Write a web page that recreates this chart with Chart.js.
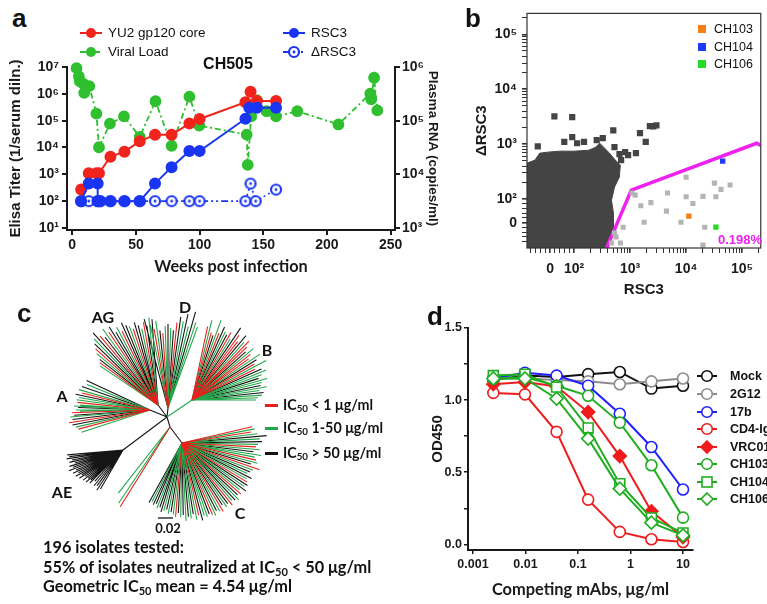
<!DOCTYPE html>
<html><head><meta charset="utf-8">
<script src="https://cdn.jsdelivr.net/npm/chart.js@4/dist/chart.umd.min.js"></script>
<style>
html,body{margin:0;padding:0;background:#fff;}
#page{position:relative;width:767px;height:604px;overflow:hidden;background:#fff;font-family:"Liberation Sans",Arial,sans-serif;color:#111;}
canvas{position:absolute;}
.t{position:absolute;white-space:nowrap;line-height:1;transform:translateY(-50%);color:#111;}
.b{font-weight:bold;}
.cal{font-family:Lato,"Open Sans",sans-serif;font-weight:bold;}
sub{font-size:0.68em;vertical-align:-0.25em;line-height:0;}
svg{position:absolute;overflow:visible;}
</style></head><body><div id="page">
<canvas id="ca" width="447" height="225" style="left:0;top:55px"></canvas>
<canvas id="cb" width="327" height="300" style="left:440px;top:0"></canvas>
<canvas id="cc" width="290" height="235" style="left:20px;top:295px"></canvas>
<canvas id="cd" width="367" height="304" style="left:400px;top:300px"></canvas>

<div class="t b" style="left:12px;top:17.5px;font-size:26px">a</div>
<div class="t b" style="left:465px;top:17.5px;font-size:26px">b</div>
<div class="t b" style="left:17px;top:312.5px;font-size:26px">c</div>
<div class="t b" style="left:427px;top:315.5px;font-size:26px">d</div>

<div class="t b" style="left:228px;top:64px;font-size:16px;transform:translate(-50%,-50%)">CH505</div>
<div id="legA"></div>
<div id="legB"></div>
<div id="legC"></div>
<div id="legD"></div>

<div class="t b" style="left:718px;top:239px;font-size:13px;color:#ee22ee">0.198%</div>

<div class="t cal" style="left:103px;top:317px;font-size:16px;transform:translate(-50%,-50%)">AG</div>
<div class="t cal" style="left:185px;top:307px;font-size:16px;transform:translate(-50%,-50%)">D</div>
<div class="t cal" style="left:267px;top:350px;font-size:16px;transform:translate(-50%,-50%)">B</div>
<div class="t cal" style="left:62px;top:396px;font-size:16px;transform:translate(-50%,-50%)">A</div>
<div class="t cal" style="left:62px;top:492px;font-size:16px;transform:translate(-50%,-50%)">AE</div>
<div class="t cal" style="left:240px;top:513px;font-size:16px;transform:translate(-50%,-50%)">C</div>
<div class="t cal" style="left:168px;top:528px;font-size:13px;transform:translate(-50%,-50%)">0.02</div>

<div class="t cal" style="left:43px;top:547px;font-size:16.3px">196 isolates tested:</div>
<div class="t cal" style="left:43px;top:567px;font-size:16.3px">55% of isolates neutralized at IC<sub>50</sub> &lt; 50 μg/ml</div>
<div class="t cal" style="left:43px;top:586px;font-size:16.3px">Geometric IC<sub>50</sub> mean = 4.54 μg/ml</div>
</div>
<script>
// ================= DATA =================
// Panel a
const weeksYU2 = [7, 13, 19, 21, 30, 41, 53, 65, 78, 92, 100, 136, 140, 145, 160];
const titerYU2 = [270, 1100, 1100, 1100, 4500, 7000, 17000, 30000, 30000, 78000, 115000, 490000, 1200000, 540000, 540000];
const weeksRSC3 = [7, 13, 20, 20, 22, 30, 41, 53, 65, 78, 92, 100, 136, 139, 145, 160];
const titerRSC3 = [100, 450, 450, 100, 100, 100, 100, 100, 450, 1850, 7400, 7400, 118000, 300000, 300000, 300000];
const weeksDRSC3 = [7, 13, 20, 22, 30, 41, 53, 65, 78, 92, 100, 136, 140, 144, 160];
const titerDRSC3 = [100, 100, 100, 100, 100, 100, 100, 100, 100, 100, 100, 100, 450, 100, 270];
const weeksVL = [3.4, 5.2, 6, 8.6, 9.4, 13.4, 19, 21, 29.6, 40.6, 53, 65.4, 78, 92, 99.7, 137, 137.8, 140.5, 145, 152.6, 160, 176.7, 209, 234, 234.7, 237, 239.5];
const copiesVL = [950000, 670000, 540000, 490000, 330000, 440000, 135000, 32000, 88000, 120000, 50000, 230000, 34000, 280000, 81000, 55000, 15000, 120000, 240000, 150000, 120000, 150000, 85000, 320000, 250000, 630000, 156000];
const weekTicks = [0, 50, 100, 150, 200, 250];
const titerTicks = [1e1, 1e2, 1e3, 1e4, 1e5, 1e6, 1e7];
const rnaTicks = [1e3, 1e4, 1e5, 1e6];

// Panel b (fluorescence values, logicle-like display)
const blobRSC3 = [-96, -96, -63, -43, -10, 39, 100, 183, 243, 286, 336, 411, 546, 668, 641, 525, 464, 503, 503, 411, -96];
const blobDRSC3 = [-107, 452, 512, 686, 716, 746, 746, 777, 882, 1043, 882, 716, 512, 415, 251, 165, 95, 41, -23, -107, -107];
const darkRSC3 = [-51, 18, 92, 59, 92, 113, 150, 253, 325, 500, 525, 815, 920, 1270, 645, 690, 1500, 1900, 2250, 2600, 2950];
const darkDRSC3 = [910, 3200, 3100, 1100, 1350, 1040, 1100, 1180, 1290, 1790, 880, 716, 630, 686, 660, 510, 1590, 1100, 2130, 2100, 2200];
const grayRSC3 = [750, 670, 560, 465, 525, 1230, 1080, 1550, 1780, 2350, 4650, 4450, 8100, 10000, 10000, 13200, 20000, 21500, 20000, 34000, 32000, 42000, 61000];
const grayDRSC3 = [-19, -86, -60, -86, -44, 118, 129, 72, 2, 85, 129, 49, 2, 250, 110, 81, 112, -19, -95, 110, 195, 150, 180];
const gateRSC3 = [380, 1050, 182000, 215000];
const gateDRSC3 = [-107, 146, 1040, 950];
const mAbNames = ['CH103', 'CH104', 'CH106'];
const mAbRSC3 = [11200, 45000, 34000];
const mAbDRSC3 = [28, 490, -19];
const logicleTickValues = [0, 100, 1000, 10000, 100000];
const logicleTickLabels = ['0', '10²', '10³', '10⁴', '10⁵'];

// Panel c (tree: clade hub positions and leaves as angle (deg) / branch length, units of 0.02/15)
const hubB = [25, 17], hubD = [1, 9], hubAG = [-9, 12], hubA = [-17, 7], hubAE = [-44, -33], nodeC0 = [3, -10], hubC = [15, -26];
const angB = [78,76,74,72,70,68,66,64,62,60,58,56,54,52,50,48,46,44,42,40,38,36,34,32,30,28,26,24,22,20,18,16,14,12,10,8,6,4,2,0];
const lenB = [75,82,70,68,85,72,80,76,74,78,72,87,80,74,84,78,82,76,72,80,74,70,82,76,72,84,70,76,80,74,70,78,72,70,76,68,72,70,66,64];
const colB = "rgrkgrkgkrgkrrkgrrkgrrgkrgrkggkggkggkggg";
const angD = [105,102,100,98,96,94,92,90,88,86,84,82,80,78,76,74,72,70];
const lenD = [92,85,80,88,78,75,82,84,80,78,86,92,88,96,84,100,90,86];
const colD = "kgrgkrgkgkrkgkgkgg";
const angAG = [146,144,142,140,138,136,134,132,130,128,126,124,122,120,118,116,114,112,110,108,106,104,102,100,98,96,94];
const lenAG = [70,72,74,80,84,88,92,97,90,86,94,88,92,84,88,82,90,86,84,80,86,82,78,84,80,88,86];
const colAG = "grkgrkgkrkgrkkgrkkgrkkgrkgk";
const angA = [155,158,161,164,166,168,170,172,174,176,177,178,180,181,182,184,185,187,189,191,193,195,198];
const lenA = [70,68,72,74,70,76,72,74,73,70,76,72,74,70,78,76,80,78,82,79,76,74,72];
const colA = "kgkgrkggrggkggrkgkrkgrg";
const angAE = [185,187,189,191,193,195,197,199,201,203,205,207,209,211,213,215,217,219,221,223,225,228,231,234,237,240];
const lenAE = [56,54,57,52,55,50,56,53,58,51,55,50,54,48,52,46,50,45,49,44,47,42,46,44,48,45];
const colAE = "kkkkkkkkkkkkkkkkkkkkkkkkkk";
const angC = [13,11,9,7,5,3,1,-1,-3,-5,-7,-9,-11,-13,-15,-17,-19,-21,-23,-25,-27,-29,-31,-33,-35,-37,-39,-41,-43,-45,-47,-49,-51,-53,-55,-57,-59,-61,-63,-65,-67,-69,-71,-73,-75,-77,-79,-81,-83,-85,-87,-89,-91,-93,-95,-97,-99,-101,-103,-105,-107,-109,-111,-113,-115,-117,-119];
const lenC = [72,74,70,76,85,78,80,76,74,78,72,80,74,76,78,72,82,76,74,72,78,74,76,78,76,80,74,78,76,80,78,76,80,76,78,74,80,78,76,80,78,76,78,76,80,74,78,72,76,74,78,72,74,70,74,72,70,72,68,70,72,68,70,66,68,66,68];
const colC = "rgrgkgkgrgkggrgkrgkgkgrkgkgrkgkgrkgkrgkgrkggkrgkgkgkgkrgkgkgkkgkkgk";
const angC2 = [232, 236, 238];
const lenC2 = [84, 92, 94];
const colC2 = "ggr";
const scaleBarLen = 15; // = 0.02

// Panel d
const conc = [0.00244, 0.00977, 0.0391, 0.156, 0.625, 2.5, 10];
const odMock = [1.14, 1.17, 1.16, 1.18, 1.195, 1.08, 1.10];
const od2G12 = [1.15, 1.15, 1.14, 1.13, 1.11, 1.13, 1.15];
const od17b = [1.15, 1.19, 1.17, 1.10, 0.905, 0.675, 0.38];
const odCD4Ig = [1.05, 1.04, 0.78, 0.31, 0.086, 0.035, 0.016];
const odVRC01 = [1.11, 1.125, 1.095, 0.917, 0.612, 0.229, 0.05];
const odCH103 = [1.15, 1.16, 1.10, 1.03, 0.844, 0.548, 0.185];
const odCH104 = [1.17, 1.18, 1.09, 0.807, 0.42, 0.183, 0.079];
const odCH106 = [1.15, 1.15, 1.01, 0.733, 0.386, 0.15, 0.062];
const concTicks = [0.001, 0.01, 0.1, 1, 10];
const odTicks = [0, 0.25, 0.5, 0.75, 1.0, 1.25, 1.5];

// ================= HELPERS =================
const ARIAL = '"Liberation Sans", Arial, sans-serif';
const AX = '#1a1a1a';
const SUP = {'0':'⁰','1':'¹','2':'²','3':'³','4':'⁴','5':'⁵','6':'⁶','7':'⁷','8':'⁸','9':'⁹'};
const decLabel = v => '10' + String(Math.round(Math.log10(v))).split('').map(c => SUP[c]).join('');
const pts = (xs, ys) => xs.map((x, i) => ({x, y: ys[i]}));
function ringDot(color){
  const c = document.createElement('canvas'); c.width = c.height = 16;
  const g = c.getContext('2d');
  g.beginPath(); g.arc(8, 8, 5, 0, 2*Math.PI); g.fillStyle = '#fff'; g.fill();
  g.lineWidth = 2.2; g.strokeStyle = color; g.stroke();
  g.beginPath(); g.arc(8, 8, 1.4, 0, 2*Math.PI); g.fillStyle = color; g.fill();
  return c;
}
const noInt = {legend:{display:false}, tooltip:{enabled:false}};
Chart.defaults.font.family = ARIAL;

// ================= PANEL a =================
const RED = '#f0241d', GREEN = '#2fbf2f', BLUE = '#1a35f2';
const gridA = {display:true, drawOnChartArea:false, drawTicks:true, tickLength:5, lineWidth:2, color:AX};
const borderA = {display:true, width:2, color:AX};
const fontA = {family:ARIAL, weight:'bold', size:14};
new Chart(document.getElementById('ca'), {
  type:'line',
  data:{datasets:[
    {label:'YU2 gp120 core', data:pts(weeksYU2, titerYU2), borderColor:RED, backgroundColor:RED, borderWidth:2, pointRadius:5, yAxisID:'y', clip:false, order:2},
    {label:'Viral Load', data:pts(weeksVL, copiesVL), borderColor:GREEN, backgroundColor:GREEN, borderWidth:1.8, borderDash:[6,3,2,3], pointRadius:5, yAxisID:'y2', clip:false, order:4},
    {label:'RSC3', data:pts(weeksRSC3, titerRSC3), borderColor:BLUE, backgroundColor:BLUE, borderWidth:2, pointRadius:5, yAxisID:'y', clip:false, order:1},
    {label:'ΔRSC3', data:pts(weeksDRSC3, titerDRSC3), borderColor:BLUE, backgroundColor:'#fff', borderWidth:1.6, borderDash:[7,3,2,3,2,3], pointStyle:ringDot(BLUE), yAxisID:'y', clip:false, order:3}
  ]},
  options:{
    responsive:false, animation:false, devicePixelRatio:1,
    layout:{padding:{top:12, left:0, right:0, bottom:0}},
    plugins:noInt, elements:{line:{tension:0}},
    scales:{
      x:{type:'linear', min:-4.1, max:253.4,
        afterBuildTicks:s => { s.ticks = weekTicks.map(v => ({value:v})); },
        afterFit:s => { s.height = 50; },
        ticks:{font:fontA, color:AX, padding:2, maxRotation:0, autoSkip:false},
        grid:gridA, border:borderA,
        title:{display:true, text:'Weeks post infection', color:AX, font:{family:'Lato', weight:'bold', size:16.3}, padding:{top:0, bottom:3}}},
      y:{type:'logarithmic', position:'left', min:8.4, max:1e7,
        afterBuildTicks:s => { s.ticks = titerTicks.map(v => ({value:v})); },
        afterFit:s => { s.width = 67; },
        ticks:{font:fontA, color:AX, padding:3, autoSkip:false, callback:v => decLabel(v)},
        grid:gridA, border:borderA,
        title:{display:true, text:'Elisa Titer (1/serum diln.)', color:AX, font:{family:ARIAL, weight:'bold', size:15}, padding:{top:7, bottom:0}}},
      y2:{type:'logarithmic', position:'right', min:918, max:1e6,
        afterBuildTicks:s => { s.ticks = rnaTicks.map(v => ({value:v})); },
        afterFit:s => { s.width = 52; },
        ticks:{font:fontA, color:AX, padding:2, autoSkip:false, callback:v => decLabel(v)},
        grid:gridA, border:borderA,
        title:{display:true, text:'Plasma RNA (copies/ml)', color:AX, font:{family:ARIAL, weight:'bold', size:13.5}, padding:{top:6, bottom:0}}}
    }
  }
});

// legend a
(function(){
  const L = document.getElementById('legA');
  const items = [
    {x:80, y:33, c:RED, dash:'', open:false, text:'YU2 gp120 core'},
    {x:80, y:52, c:GREEN, dash:'6 3 2 3', open:false, text:'Viral Load'},
    {x:283, y:33, c:BLUE, dash:'', open:false, text:'RSC3'},
    {x:283, y:52, c:BLUE, dash:'5 2 2 2', open:true, text:'ΔRSC3'}
  ];
  let h = '';
  items.forEach(it => {
    h += `<svg style="left:${it.x}px;top:${it.y-7}px" width="22" height="14"><line x1="0" y1="7" x2="22" y2="7" stroke="${it.c}" stroke-width="2" ${it.dash?`stroke-dasharray="${it.dash}"`:''}/>` +
      (it.open ? `<circle cx="11" cy="7" r="5" fill="#fff" stroke="${it.c}" stroke-width="2.2"/><circle cx="11" cy="7" r="1.4" fill="${it.c}"/>` : `<circle cx="11" cy="7" r="5" fill="${it.c}"/>`) + `</svg>`;
    h += `<div class="t" style="left:${it.x+28}px;top:${it.y}px;font-size:13.5px">${it.text}</div>`;
  });
  L.innerHTML = h;
})();

// ================= PANEL b =================
const T = v => v >= 100 ? Math.log10(v) : 1.57 + 0.0043 * v;
const tpts = (xs, ys) => xs.map((x, i) => ({x:T(x), y:T(ys[i])}));
function logicleTicks(maxV){
  const out = logicleTickValues.map(v => ({value:T(v), major:true}));
  for (let v = -80; v <= 80; v += 20) if (v !== 0) out.push({value:T(v), major:false});
  for (let d = 100; d < maxV; d *= 10) for (let m = 2; m <= 9; m++) if (d*m <= maxV) out.push({value:T(d*m), major:false});
  return out.sort((a, b) => a.value - b.value);
}
const logicleLabel = v => { const i = logicleTickValues.findIndex(t => Math.abs(T(t) - v) < 1e-6); return i >= 0 ? logicleTickLabels[i] : ''; };
const gridB = {display:true, drawOnChartArea:false, drawTicks:true, tickLength:5, color:'#333', lineWidth:c => (c.tick && c.tick.major) ? 1.6 : 1};
const fontB = {family:ARIAL, weight:'bold', size:14};
const frame = {id:'frame', afterDatasetsDraw(ch){ const a = ch.chartArea, g = ch.ctx; g.save(); g.strokeStyle = '#333'; g.lineWidth = 1.2; g.strokeRect(a.left, a.top, a.right - a.left, a.bottom - a.top); g.restore(); }};
const MAG = '#ee22ee';
new Chart(document.getElementById('cb'), {
  type:'scatter',
  data:{datasets:[
    {label:'events', data:tpts(blobRSC3, blobDRSC3), showLine:true, fill:'shape', borderColor:'#444', backgroundColor:'#444', borderWidth:1, pointRadius:0, order:6},
    {label:'events2', data:tpts(darkRSC3, darkDRSC3), pointStyle:'rect', pointRadius:4.4, backgroundColor:'#444', borderWidth:0, order:5},
    {label:'gate', data:tpts(gateRSC3, gateDRSC3), showLine:true, borderColor:MAG, borderWidth:3.5, pointRadius:0, order:4},
    {label:'gated', data:tpts(grayRSC3, grayDRSC3), pointStyle:'rect', pointRadius:3.6, backgroundColor:'#b4b4b4', borderWidth:0, order:3},
    {label:mAbNames[0], data:[{x:T(mAbRSC3[0]), y:T(mAbDRSC3[0])}], pointStyle:'rect', pointRadius:3.8, backgroundColor:'#f57f17', borderWidth:0, order:1},
    {label:mAbNames[1], data:[{x:T(mAbRSC3[1]), y:T(mAbDRSC3[1])}], pointStyle:'rect', pointRadius:3.8, backgroundColor:'#1f3cf5', borderWidth:0, order:1},
    {label:mAbNames[2], data:[{x:T(mAbRSC3[2]), y:T(mAbDRSC3[2])}], pointStyle:'rect', pointRadius:3.8, backgroundColor:'#22dd22', borderWidth:0, order:1}
  ]},
  options:{
    responsive:false, animation:false, devicePixelRatio:1,
    layout:{padding:{top:13, right:2, left:0, bottom:0}},
    plugins:noInt,
    scales:{
      x:{type:'linear', min:1.158, max:5.333,
        afterBuildTicks:s => { s.ticks = logicleTicks(215000); },
        afterFit:s => { s.height = 52; },
        ticks:{font:fontB, color:AX, padding:8, maxRotation:0, autoSkip:false, callback:logicleLabel},
        grid:gridB, border:{display:false},
        title:{display:true, text:'RSC3', color:AX, font:{family:ARIAL, weight:'bold', size:15}, padding:{top:0, bottom:1}}},
      y:{type:'linear', min:1.109, max:5.382,
        afterBuildTicks:s => { s.ticks = logicleTicks(240000); },
        afterFit:s => { s.width = 87; },
        ticks:{font:fontB, color:AX, padding:5, autoSkip:false, callback:logicleLabel},
        grid:gridB, border:{display:false},
        title:{display:true, text:'ΔRSC3', color:AX, font:{family:ARIAL, weight:'bold', size:15}, padding:{top:33, bottom:0}}}
    }
  },
  plugins:[frame]
});
(function(){
  const cols = ['#f57f17', '#1f3cf5', '#22dd22'];
  const ys = [29, 47, 64];
  let h = '';
  mAbNames.forEach((n, i) => {
    h += `<div style="position:absolute;left:698px;top:${ys[i]-4}px;width:8px;height:8px;background:${cols[i]}"></div>`;
    h += `<div class="t" style="left:714px;top:${ys[i]}px;font-size:12.5px">${n}</div>`;
  });
  document.getElementById('legB').innerHTML = h;
})();

// ================= PANEL c =================
const TREE_COL = {r:'#e8201c', g:'#22a84a', k:'#151515'};
const seg = {r:[], g:[], k:[]};
function addSeg(c, a, b){ seg[c].push({x:a[0], y:a[1]}, {x:b[0], y:b[1]}, {x:b[0], y:null}); }
function addClade(hub, ang, len, col){
  ang.forEach((a, i) => {
    const r = a * Math.PI / 180;
    addSeg(col[i] || 'k', hub, [hub[0] + len[i]*Math.cos(r), hub[1] + len[i]*Math.sin(r)]);
  });
}
const root = [0, 0];
addSeg('k', root, hubD); addSeg('k', root, hubAG); addSeg('k', root, hubA); addSeg('k', root, hubAE);
addSeg('k', root, nodeC0); addSeg('k', nodeC0, hubC); addSeg('g', root, hubB);
addClade(hubAE, angAE, lenAE, colAE);
addClade(hubA, angA, lenA, colA);
addClade(hubAG, angAG, lenAG, colAG);
addClade(hubD, angD, lenD, colD);
addClade(hubB, angB, lenB, colB);
addClade(hubC, angC, lenC, colC);
addClade(nodeC0, angC2, lenC2, colC2);
const scaleBar = [{x:-9, y:-101}, {x:-9 + scaleBarLen, y:-101}];
new Chart(document.getElementById('cc'), {
  type:'scatter',
  data:{datasets:[
    {label:'IC50 > 50', data:seg.k, showLine:true, borderColor:TREE_COL.k, borderWidth:1.1, pointRadius:0, spanGaps:false, order:3},
    {label:'IC50 1-50', data:seg.g, showLine:true, borderColor:TREE_COL.g, borderWidth:1.1, pointRadius:0, spanGaps:false, order:2},
    {label:'IC50 < 1', data:seg.r, showLine:true, borderColor:TREE_COL.r, borderWidth:1.1, pointRadius:0, spanGaps:false, order:1},
    {label:'scale', data:scaleBar, showLine:true, borderColor:'#111', borderWidth:1.3, pointRadius:0}
  ]},
  options:{
    responsive:false, animation:false, devicePixelRatio:1,
    layout:{padding:0}, plugins:noInt,
    scales:{x:{type:'linear', display:false, min:-147, max:143}, y:{type:'linear', display:false, min:-113, max:122}}
  }
});
(function(){
  const items = [{y:405, c:TREE_COL.r, t:'IC<sub>50</sub> &lt; 1 μg/ml'}, {y:428, c:TREE_COL.g, t:'IC<sub>50</sub> 1-50 μg/ml'}, {y:453, c:TREE_COL.k, t:'IC<sub>50</sub> &gt; 50 μg/ml'}];
  let h = '';
  items.forEach(it => {
    h += `<div style="position:absolute;left:265px;top:${it.y-1.5}px;width:13px;height:3px;background:${it.c}"></div>`;
    h += `<div class="t cal" style="left:283px;top:${it.y}px;font-size:14.3px">${it.t}</div>`;
  });
  document.getElementById('legC').innerHTML = h;
})();

// ================= PANEL d =================
const D_RED = '#ee1c1c', D_GREEN = '#1fae1f', D_BLUE = '#2020ff', D_GRAY = '#8c8c8c', D_BLACK = '#111';
const seriesD = [
  {name:'Mock', y:odMock, c:D_BLACK, s:'circle', fill:false},
  {name:'2G12', y:od2G12, c:D_GRAY, s:'circle', fill:false},
  {name:'17b', y:od17b, c:D_BLUE, s:'circle', fill:false},
  {name:'CD4-Ig', y:odCD4Ig, c:D_RED, s:'circle', fill:false},
  {name:'VRC01', y:odVRC01, c:D_RED, s:'rectRot', fill:true},
  {name:'CH103', y:odCH103, c:D_GREEN, s:'circle', fill:false},
  {name:'CH104', y:odCH104, c:D_GREEN, s:'rect', fill:false},
  {name:'CH106', y:odCH106, c:D_GREEN, s:'rectRot', fill:false}
];
const fontD = {family:ARIAL, weight:'bold', size:12.5};
const gridD = {display:true, drawOnChartArea:false, drawTicks:true, tickLength:4, lineWidth:1.5, color:AX};
new Chart(document.getElementById('cd'), {
  type:'line',
  data:{datasets:seriesD.map((s, i) => ({
    label:s.name, data:pts(conc, s.y), borderColor:s.c, backgroundColor:s.fill ? s.c : '#fff',
    borderWidth:2, pointStyle:s.s, pointRadius:s.s === 'circle' ? 5.5 : (s.s === 'rect' ? 7 : 6.5), pointBorderWidth:1.6,
    clip:false, order:8 - i
  }))},
  options:{
    responsive:false, animation:false, devicePixelRatio:1,
    layout:{padding:{top:28, right:74, left:0, bottom:0}},
    plugins:noInt, elements:{line:{tension:0}},
    scales:{
      x:{type:'logarithmic', min:0.000803, max:15.5,
        afterBuildTicks:s => { s.ticks = concTicks.map(v => ({value:v})); },
        afterFit:s => { s.height = 54; },
        ticks:{font:fontD, color:AX, padding:3, maxRotation:0, autoSkip:false, callback:v => String(v)},
        grid:gridD, border:{display:true, width:2, color:AX},
        title:{display:true, text:'Competing mAbs, μg/ml', color:AX, font:{family:'Lato', weight:'bold', size:16.4}, padding:{top:0, bottom:4}}},
      y:{type:'linear', min:-0.0395, max:1.5,
        afterBuildTicks:s => { s.ticks = odTicks.map(v => ({value:v})); },
        afterFit:s => { s.width = 68; },
        ticks:{font:fontD, color:AX, padding:2, autoSkip:false, callback:v => (Math.abs(v*2 - Math.round(v*2)) < 1e-6 ? v.toFixed(1) : '')},
        grid:gridD, border:{display:true, width:2, color:AX},
        title:{display:true, text:'OD450', color:AX, font:{family:ARIAL, weight:'bold', size:15}, padding:{top:29, bottom:0}}}
    }
  }
});
(function(){
  const ys = [376, 394, 412, 429, 447, 464, 482, 499];
  let h = '';
  seriesD.forEach((s, i) => {
    const y = ys[i];
    let mk;
    if (s.s === 'circle') mk = `<circle cx="10" cy="7" r="5.3" fill="#fff" stroke="${s.c}" stroke-width="1.6"/>`;
    else if (s.s === 'rect') mk = `<rect x="5" y="2" width="10" height="10" fill="#fff" stroke="${s.c}" stroke-width="1.6"/>`;
    else mk = `<polygon points="10,1 16,7 10,13 4,7" fill="${s.fill ? s.c : '#fff'}" stroke="${s.c}" stroke-width="1.6"/>`;
    h += `<svg style="left:697px;top:${y-7}px" width="20" height="14"><line x1="0" y1="7" x2="20" y2="7" stroke="${s.c}" stroke-width="2"/>${mk}</svg>`;
    h += `<div class="t b" style="left:730px;top:${y}px;font-size:12.5px">${s.name}</div>`;
  });
  document.getElementById('legD').innerHTML = h;
})();
</script>
</body></html>
